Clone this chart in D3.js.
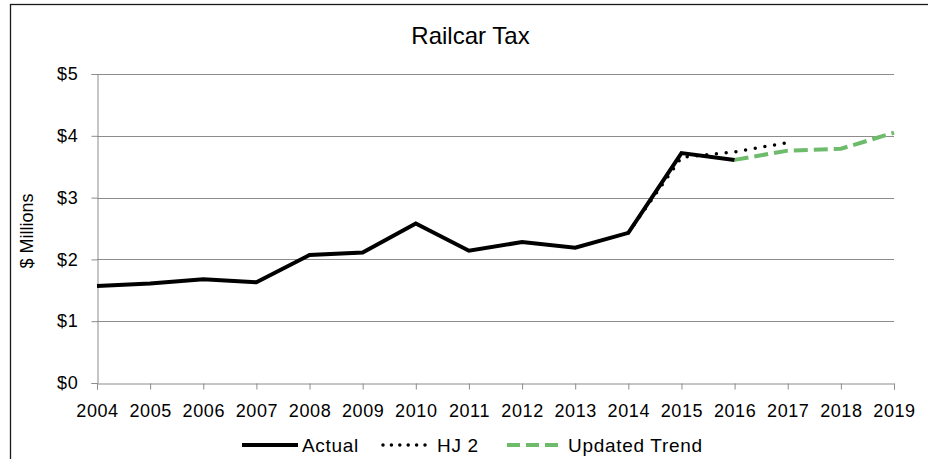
<!DOCTYPE html>
<html>
<head>
<meta charset="utf-8">
<script src="https://cdn.jsdelivr.net/npm/d3@7/dist/d3.min.js"></script>
<style>
  html, body { margin: 0; padding: 0; background: #fff; }
  svg { display: block; font-family: "Liberation Sans", Arial, sans-serif; }
</style>
</head>
<body>
<svg id="chart" width="928" height="459"></svg>
<script>
// Railcar tax collections, $ millions
const years = [2004, 2005, 2006, 2007, 2008, 2009, 2010, 2011, 2012, 2013, 2014, 2015, 2016, 2017, 2018, 2019];
const actualYears = [2004, 2005, 2006, 2007, 2008, 2009, 2010, 2011, 2012, 2013, 2014, 2015, 2016];
const actualValues = [1.57, 1.61, 1.68, 1.63, 2.07, 2.11, 2.58, 2.14, 2.28, 2.19, 2.43, 3.72, 3.61];
const hj2Years = [2014, 2015, 2016, 2017];
const hj2Values = [2.43, 3.65, 3.74, 3.89];
const trendYears = [2016, 2017, 2018, 2019];
const trendValues = [3.61, 3.76, 3.79, 4.05];
const yTicks = [0, 1, 2, 3, 4, 5];

const svg = d3.select("#chart");
const margin = { left: 97, right: 34, top: 74, bottom: 76 };
const W = 928, H = 459;
const FONT = "Liberation Sans, Arial, sans-serif";

// Chart frame
svg.append("rect")
  .attr("x", 10.5).attr("y", 4.5)
  .attr("width", 940).attr("height", 470)
  .attr("fill", "none").attr("stroke", "#1a1a1a").attr("stroke-width", 1.3);

const x = d3.scaleLinear().domain([2004, 2019]).range([margin.left, W - margin.right]);
const y = d3.scaleLinear().domain([0, 5]).range([H - margin.bottom, margin.top]);

// Gridlines
svg.append("g")
  .selectAll("line").data(yTicks.filter(d => d > 0)).join("line")
  .attr("x1", x(2004)).attr("x2", x(2019))
  .attr("y1", d => Math.round(y(d)) + 0.5).attr("y2", d => Math.round(y(d)) + 0.5)
  .attr("stroke", "#8c8c8c").attr("stroke-width", 1);

// Y axis
const yAxis = svg.append("g")
  .attr("transform", `translate(${Math.round(x(2004)) + 0.5},0)`)
  .call(d3.axisLeft(y).tickValues(yTicks).tickFormat(d => "$" + d).tickSize(6).tickPadding(13));
yAxis.select(".domain").attr("stroke", "#8c8c8c");
yAxis.selectAll(".tick line").attr("stroke", "#8c8c8c");
yAxis.selectAll(".tick text").attr("font-size", 18).attr("fill", "#000")
  .attr("letter-spacing", 0.8).attr("font-family", FONT);

// X axis
const xAxis = svg.append("g")
  .attr("transform", `translate(0,${Math.round(y(0)) + 0.5})`)
  .call(d3.axisBottom(x).tickValues(years).tickFormat(d3.format("d")).tickSize(6).tickPadding(15));
xAxis.select(".domain").attr("stroke", "#8c8c8c");
xAxis.selectAll(".tick line").attr("stroke", "#8c8c8c");
xAxis.selectAll(".tick text").attr("font-size", 18).attr("fill", "#000")
  .attr("letter-spacing", 0.6).attr("font-family", FONT);

// Title
svg.append("text")
  .attr("x", 470.5).attr("y", 44)
  .attr("text-anchor", "middle")
  .attr("font-size", 24).attr("fill", "#000")
  .text("Railcar Tax");

// Y axis title
svg.append("text")
  .attr("transform", "translate(33,231) rotate(-90)")
  .attr("text-anchor", "middle")
  .attr("font-size", 18).attr("fill", "#000")
  .text("$ Millions");

const line = d3.line().x(d => x(d[0])).y(d => y(d[1]));

// Updated Trend (dashed green)
svg.append("path")
  .datum(d3.zip(trendYears, trendValues))
  .attr("d", line)
  .attr("fill", "none").attr("stroke", "#6dbb6b").attr("stroke-width", 4)
  .attr("stroke-dasharray", "14,6");

// Actual (solid black)
svg.append("path")
  .datum(d3.zip(actualYears, actualValues))
  .attr("d", line)
  .attr("fill", "none").attr("stroke", "#000").attr("stroke-width", 4)
  .attr("stroke-linejoin", "miter");

// HJ 2 (dotted black)
svg.append("path")
  .datum(d3.zip(hj2Years, hj2Values))
  .attr("d", line)
  .attr("fill", "none").attr("stroke", "#000").attr("stroke-width", 3.5)
  .attr("stroke-linecap", "round")
  .attr("stroke-dasharray", "0,9.8");

// Legend
const legendY = 445;
const legend = svg.append("g");
const items = [
  { label: "Actual", x0: 242, x1: 298, tx: 302, stroke: "#000", dash: null, width: 4, cap: "butt" },
  { label: "HJ 2", x0: 383, x1: 433, tx: 437, stroke: "#000", dash: "0,8.4", width: 3.5, cap: "round" },
  { label: "Updated Trend", x0: 507, x1: 558, tx: 568, stroke: "#6dbb6b", dash: "13,6", width: 4, cap: "butt" }
];
items.forEach(it => {
  legend.append("line")
    .attr("x1", it.x0).attr("x2", it.x1)
    .attr("y1", legendY).attr("y2", legendY)
    .attr("stroke", it.stroke).attr("stroke-width", it.width)
    .attr("stroke-linecap", it.cap)
    .attr("stroke-dasharray", it.dash);
  legend.append("text")
    .attr("x", it.tx).attr("y", legendY + 7)
    .attr("font-size", 19).attr("letter-spacing", 0.7).attr("fill", "#000")
    .text(it.label);
});
</script>
</body>
</html>
